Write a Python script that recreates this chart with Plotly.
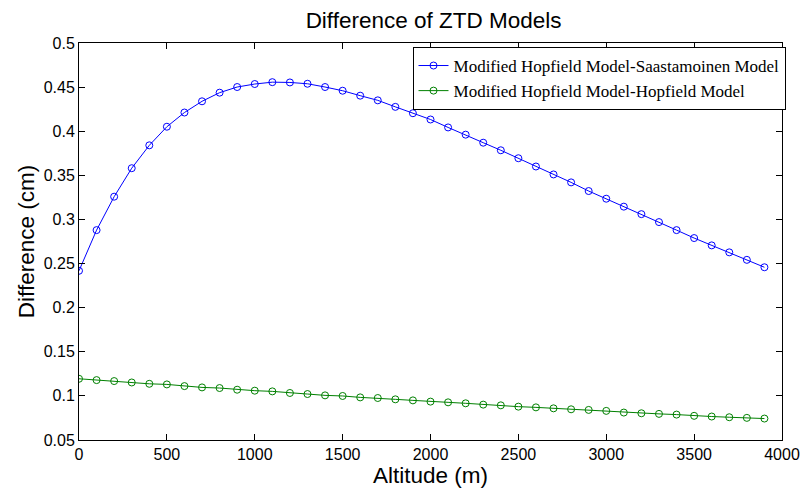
import plotly.graph_objects as go

# Altitude grid (m)
altitude = list(range(0, 4000, 100))

# Modified Hopfield minus Saastamoinen (cm)
diff_saastamoinen = [
    0.2418, 0.2879, 0.3258, 0.3581, 0.3840, 0.4051, 0.4212, 0.4339, 0.4437, 0.4501,
    0.4535, 0.4556, 0.4553, 0.4538, 0.4501, 0.4459, 0.4403, 0.4350, 0.4276, 0.4204,
    0.4133, 0.4043, 0.3961, 0.3870, 0.3784, 0.3694, 0.3600, 0.3510, 0.3420, 0.3322,
    0.3235, 0.3145, 0.3060, 0.2970, 0.2879, 0.2789, 0.2706, 0.2627, 0.2542, 0.2458,
]

# Modified Hopfield minus Hopfield (cm)
diff_hopfield = [
    0.1194, 0.1179, 0.1168, 0.1152, 0.1137, 0.1130, 0.1111, 0.1096, 0.1089, 0.1070,
    0.1059, 0.1051, 0.1033, 0.1021, 0.1006, 0.0999, 0.0983, 0.0976, 0.0961, 0.0949,
    0.0935, 0.0927, 0.0916, 0.0901, 0.0893, 0.0878, 0.0870, 0.0859, 0.0848, 0.0841,
    0.0830, 0.0811, 0.0803, 0.0796, 0.0788, 0.0774, 0.0766, 0.0758, 0.0751, 0.0743,
]

x_ticks = list(range(0, 4001, 500))
y_ticks = [0.05, 0.1, 0.15, 0.2, 0.25, 0.3, 0.35, 0.4, 0.45, 0.5]
y_tick_text = ["0.05", "0.1", "0.15", "0.2", "0.25", "0.3", "0.35", "0.4", "0.45", "0.5"]

series_names = [
    "Modified Hopfield Model-Saastamoinen Model",
    "Modified Hopfield Model-Hopfield Model",
]
series_colors = ["#0000ff", "#008000"]

fig = go.Figure()
for name, ys, col in zip(series_names, [diff_saastamoinen, diff_hopfield], series_colors):
    fig.add_trace(go.Scatter(
        x=altitude, y=ys, name=name, mode="lines+markers",
        line=dict(color=col, width=1),
        marker=dict(symbol="circle-open", size=7, color=col, line=dict(width=1, color=col)),
    ))

sans = "Liberation Sans, Arial"
axis_common = dict(
    showgrid=False, zeroline=False, showline=True, linecolor="black", linewidth=1,
    mirror="ticks", ticks="inside", ticklen=6, tickcolor="black", tickwidth=1,
    tickfont=dict(family=sans, size=16, color="black"),
)

fig.update_layout(
    width=812, height=493,
    margin=dict(l=79, r=21, t=43, b=50),
    paper_bgcolor="white", plot_bgcolor="white",
    title=dict(text="Difference of ZTD Models", x=0.534, xanchor="center", y=0.959, yanchor="middle",
               font=dict(family=sans, size=22.5, color="black")),
    xaxis=dict(range=[0, 4000], tickvals=x_ticks,
               title=dict(text="Altitude (m)", standoff=2,
                          font=dict(family=sans, size=22.5, color="black")),
               **axis_common),
    yaxis=dict(range=[0.05, 0.5], tickvals=y_ticks, ticktext=y_tick_text,
               title=dict(text="Difference (cm)", standoff=2,
                          font=dict(family=sans, size=22.5, color="black")),
               **axis_common),
    legend=dict(x=1.005, y=0.99, xanchor="right", yanchor="top",
                bgcolor="white", bordercolor="black", borderwidth=1,
                font=dict(family="Liberation Serif, Times New Roman", size=17, color="black"),
                tracegroupgap=0, itemwidth=30),
    showlegend=True,
)

fig.write_html("out.html")
